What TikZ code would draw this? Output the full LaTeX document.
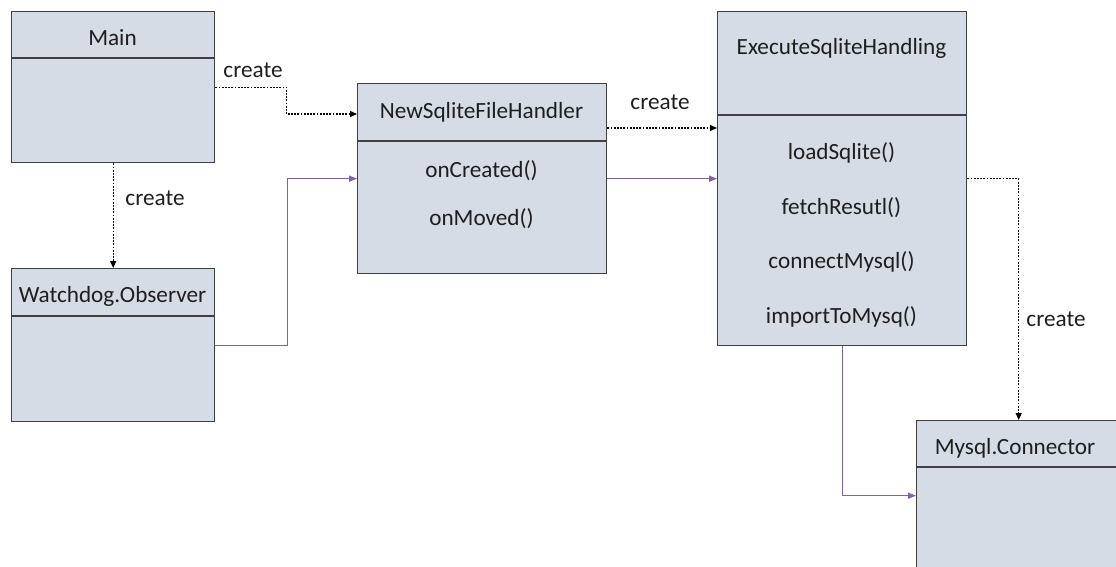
\documentclass[tikz,border=0pt]{standalone}
\usepackage{fontspec}
\setmainfont{Carlito}
\usetikzlibrary{arrows.meta}
\definecolor{boxfill}{RGB}{214,220,229}
\definecolor{boxline}{RGB}{64,64,64}
\definecolor{flow}{RGB}{128,100,162}
\definecolor{txt}{RGB}{30,30,30}
\begin{document}
\begin{tikzpicture}[x=1pt,y=-1pt,
  classbox/.style={draw=boxline,fill=boxfill,line width=1.4pt,inner sep=0pt,anchor=north west},
  divider/.style={draw=boxline,line width=1.4pt},
  lbl/.style={text=txt,font=\fontsize{23.2}{27}\selectfont,inner sep=0pt},
  creates/.style={dash pattern=on 1.8pt off 1.4pt,line width=1.3pt,-{Triangle[length=7pt,width=6pt]}},
  uses/.style={draw=flow,line width=1.4pt,-{Triangle[length=8pt,width=6pt]}}]
\useasboundingbox (0,0) rectangle (1116,567);

% class boxes
\node[classbox,minimum width=203pt,minimum height=151pt] (main) at (11,11) {};
\node[classbox,minimum width=203pt,minimum height=153pt] (wd) at (11,268) {};
\node[classbox,minimum width=249pt,minimum height=190pt] (nsfh) at (357,83) {};
\node[classbox,minimum width=249pt,minimum height=334pt] (esh) at (717,11) {};
\node[classbox,minimum width=204pt,minimum height=150pt] (mysql) at (916,420) {};

% compartment lines
\draw[divider] (11,58) -- (214,58);
\draw[divider] (11,316) -- (214,316);
\draw[divider] (357,141) -- (606,141);
\draw[divider] (717,115) -- (966,115);
\draw[divider] (916,467) -- (1120,467);

% names and operations
\node[lbl] (tmain) at (112.5,38) {Main};
\node[lbl] (twd) at (112.5,296) {Watchdog.Observer};
\node[lbl] (tnsfh) at (481.5,112) {NewSqliteFileHandler};
\node[lbl] (oncr) at (481.5,171) {onCreated()};
\node[lbl] (onmv) at (481.5,219) {onMoved()};
\node[lbl] (tesh) at (841.5,48) {ExecuteSqliteHandling};
\node[lbl] (ld) at (841.5,153) {loadSqlite()};
\node[lbl] (fr) at (841.5,208) {fetchResutl()};
\node[lbl] (cm) at (841.5,262) {connectMysql()};
\node[lbl] (im) at (841.5,317) {importToMysq()};
\node[lbl] (tmy) at (1015,448) {Mysql.Connector};

% creation dependencies
\draw[creates] (main.east) -- ++(71,0) |- ([yshift=-31pt]nsfh.north west);
\draw[creates] (main.south) -- (wd.north);
\draw[creates] ([yshift=-45pt]nsfh.north east) -- ([yshift=-117pt]esh.north west);
\draw[creates] (esh.east) -| (mysql.north);

% usage flow
\draw[uses] (wd.east) -- ++(72,0) |- (nsfh.west);
\draw[uses] (nsfh.east) -- (esh.west);
\draw[uses] (esh.south) |- (mysql.west);

% connector labels
\node[lbl] (c1) at (253,70) {create};
\node[lbl] (c2) at (155,198) {create};
\node[lbl] (c3) at (660,102) {create};
\node[lbl] (c4) at (1056,319) {create};
\end{tikzpicture}
\end{document}
